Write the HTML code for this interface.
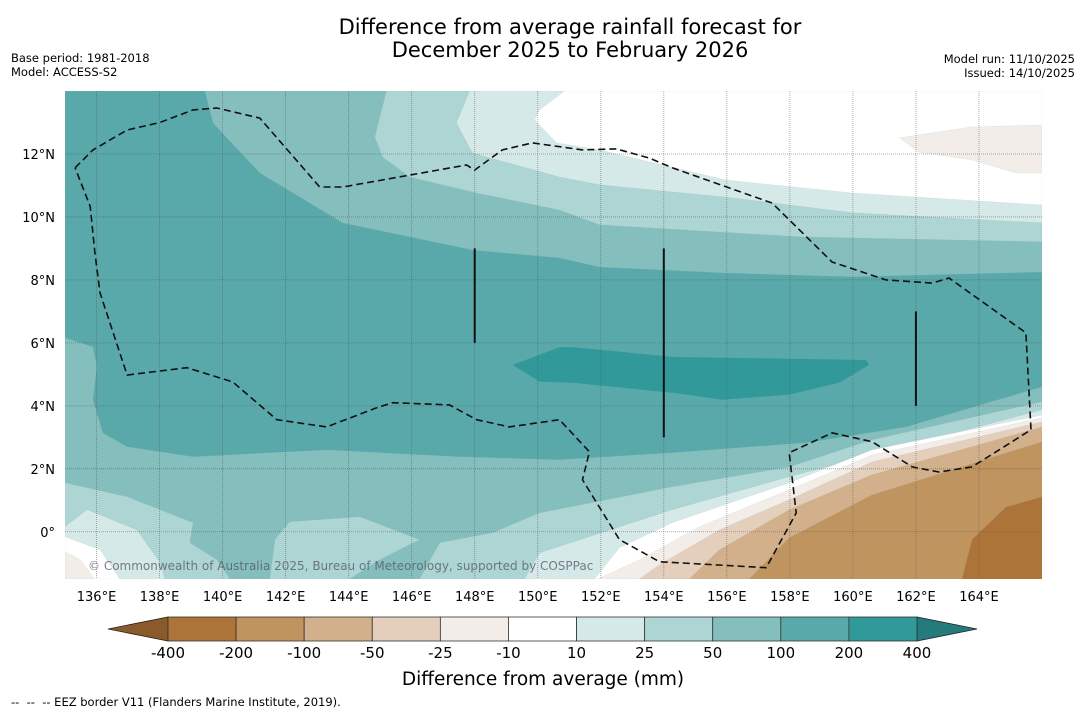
<!DOCTYPE html>
<html><head><meta charset="utf-8"><style>
body{margin:0;background:#fff;width:1085px;height:713px;overflow:hidden;font-family:"DejaVu Sans","Liberation Sans",sans-serif}
svg{display:block}
</style></head><body>
<svg id="chart" width="1085" height="713" xmlns="http://www.w3.org/2000/svg" font-family="DejaVu Sans, Liberation Sans, sans-serif">
<text x="570" y="34" font-size="21" text-anchor="middle">Difference from average rainfall forecast for</text>
<text x="570" y="57" font-size="21" text-anchor="middle">December 2025 to February 2026</text>
<text x="11" y="62" font-size="11.5">Base period: 1981-2018</text>
<text x="11" y="76" font-size="11.5">Model: ACCESS-S2</text>
<text x="1075" y="63" font-size="11.5" text-anchor="end">Model run: 11/10/2025</text>
<text x="1075" y="77" font-size="11.5" text-anchor="end">Issued: 14/10/2025</text>
<defs><clipPath id="mapclip"><rect x="65" y="91" width="977" height="488"/></clipPath></defs>
<g id="map" clip-path="url(#mapclip)"></g>
<g id="axes"></g>
<g id="cbar"></g>
<text x="543" y="685" font-size="18.5" text-anchor="middle">Difference from average (mm)</text>
<text x="11" y="706" font-size="11.5" xml:space="preserve">--  --  -- EEZ border V11 (Flanders Marine Institute, 2019).</text>
</svg>
<script>
// axis domain
const lonMin=135, lonMax=166, latMin=-1.5, latMax=14;
const lonTicks=[136,138,140,142,144,146,148,150,152,154,156,158,160,162,164];
const latTicks=[0,2,4,6,8,10,12];
const cbLevels=["-400","-200","-100","-50","-25","-10","10","25","50","100","200","400"];
const cbColors=["#ad743a","#c0945f","#d1b08b","#e3cfbb","#f2ede8","#ffffff","#d5e9e8","#acd5d4","#84bfbe","#5aa9aa","#31999a"];
const cbLow="#8b5a2b", cbHigh="#257b7c";
// contour regions [lon,lat] with band colour
const regionBase=[[135,14],[166,14],[166,-1.5],[135,-1.5]];
const regionN50=[[145.2,14],[144.83,12.54],[145.08,11.9],[145.94,11.27],[148.06,10.76],[150.69,10.22],[151.96,9.75],[158.3,9.37],[166,9.21],[166,14]];
const regionN25=[[147.84,14],[147.42,12.98],[147.93,12.03],[150.69,11.27],[151.96,11.02],[155.98,10.63],[159.98,10.13],[166,9.81],[166,14]];
const regionN10=[[150.85,14],[150.06,13.4],[149.9,13.08],[150.6,12.35],[151.96,12.13],[155.98,11.17],[159.98,10.76],[166,10.38],[166,14]];
const regionNE=[[161.47,12.51],[162.1,12.06],[163.78,11.81],[165.17,11.4],[166,11.4],[166,12.92],[163.78,12.86]];
const regionMain=[[135,14],[139.44,14],[139.7,12.98],[141.18,11.4],[142.77,10.44],[143.81,9.81],[145.94,9.37],[147.93,8.95],[150.69,8.7],[151.96,8.41],[155.98,8.22],[159.98,8.1],[166,8.25],[166,4.6],[161.69,3.33],[158.52,2.83],[154.27,2.51],[150.69,2.29],[147.52,2.38],[143.3,2.6],[139.06,2.38],[136.97,2.7],[136.2,3.14],[135.89,4.19],[136.01,5.24],[135.89,5.87],[135,6.16]];
const regionBlob=[[149.2,5.3],[150.69,5.87],[151.1,5.87],[154.27,5.56],[160.42,5.46],[160.52,5.3],[159.56,4.73],[157.98,4.35],[155.86,4.19],[154.27,4.41],[151.1,4.73],[150.06,4.76]];
const regionS50=[[166,4.13],[160.61,2.92],[157.98,2.06],[154.27,1.43],[150.06,0.6],[148.57,-0.03],[146.89,-0.35],[146.25,-1.5],[166,-1.5]];
const regionS50W=[[135,1.56],[136.97,1.11],[139.06,0.29],[138.96,-0.35],[139.82,-0.89],[140.23,-1.5],[135,-1.5]];
const regionS50P=[[141.5,-1.5],[141.66,-0.25],[142.13,0.32],[144.35,0.48],[146.25,-0.25],[144.98,-0.89],[144.03,-1.5]];
const regionS25=[[166,3.87],[157.98,1.75],[154.27,0.7],[150.06,-0.67],[149.58,-1.5],[166,-1.5]];
const regionS25W=[[135,0.16],[135.7,0.7],[137.28,0.06],[138.01,-0.98],[138.17,-1.5],[135,-1.5]];
const regionS10=[[166,3.71],[160.61,2.6],[157.98,1.56],[154.27,0.29],[152.59,-0.51],[151.8,-1.5],[166,-1.5]];
const regionS10W=[[135,-0.16],[136.11,-0.57],[136.74,-1.5],[135,-1.5]];
const regionSm10=[[166,3.62],[160.61,2.44],[157.98,1.33],[155.13,0.16],[153.23,-0.89],[151.9,-1.5],[166,-1.5]];
const regionSm10W=[[135,-0.63],[135.48,-0.89],[135.95,-1.5],[135,-1.5]];
const regionSm25=[[166,3.49],[160.61,2.22],[157.98,1.02],[155.76,0.06],[153.86,-1.05],[153.22,-1.5],[166,-1.5]];
const regionSm50=[[166,3.33],[160.61,1.81],[157.98,0.7],[155.76,-0.57],[154.81,-1.5],[166,-1.5]];
const regionSm100=[[166,2.86],[160.61,1.17],[157.98,-0.19],[156.71,-1.5],[166,-1.5]];
const regionSm200=[[166,1.11],[164.86,0.79],[163.78,-0.25],[163.46,-1.5],[166,-1.5]];
const eezLine=[[135.32,11.56],[135.89,12.13],[136.97,12.76],[138.01,13.0],[139.06,13.4],[139.82,13.46],[141.18,13.14],[143.08,10.95],[143.81,10.95],[147.74,11.65],[148.0,11.49],[148.88,12.13],[149.83,12.35],[151.42,12.13],[152.5,12.16],[153.54,11.87],[154.27,11.56],[157.44,10.44],[159.34,8.57],[161.05,8.0],[162.51,7.9],[163.05,8.06],[165.49,6.32],[165.65,3.24],[163.78,2.06],[162.73,1.9],[161.88,2.06],[160.61,2.86],[159.34,3.14],[157.98,2.51],[158.2,0.6],[157.25,-1.14],[153.86,-0.95],[152.59,-0.25],[151.42,1.65],[151.64,2.54],[150.69,3.56],[149.1,3.33],[148.06,3.56],[147.2,4.03],[145.4,4.1],[144.89,3.94],[143.3,3.33],[141.72,3.56],[140.32,4.76],[138.87,5.21],[136.97,4.98],[136.11,7.59],[135.95,8.86],[135.8,10.33],[135.32,11.56]];
const segLon=[148,154,162], segLat0=[6,3,4], segLat1=[9,9,7];

const X0=65,X1=1042,Y0=91,Y1=579;
const xs=l=>X0+(l-lonMin)/(lonMax-lonMin)*(X1-X0);
const ys=l=>Y0+(latMax-l)/(latMax-latMin)*(Y1-Y0);
const NS="http://www.w3.org/2000/svg";
const map=document.getElementById('map'), axes=document.getElementById('axes'), cbar=document.getElementById('cbar');
function mk(tag,attrs,parent){const e=document.createElementNS(NS,tag);for(const k in attrs)e.setAttribute(k,attrs[k]);parent.appendChild(e);return e;}
const pts=a=>a.map(p=>xs(p[0]).toFixed(1)+','+ys(p[1]).toFixed(1)).join(' ');
const layers=[[regionBase,"#84bfbe","band-50-100"],[regionN50,"#acd5d4","band-25-50-north"],[regionN25,"#d5e9e8","band-10-25-north"],[regionN10,"#ffffff","band-neutral-north"],[regionNE,"#f2ede8","band-dry-northeast"],[regionMain,"#5aa9aa","band-100-200"],[regionBlob,"#31999a","band-200-400"],
[regionS50,"#acd5d4","band-25-50-south"],[regionS50W,"#acd5d4","band-25-50-southwest"],[regionS50P,"#acd5d4","band-25-50-pocket"],[regionS25,"#d5e9e8","band-10-25-south"],[regionS25W,"#d5e9e8","band-10-25-southwest"],[regionS10,"#ffffff","band-neutral-south"],[regionS10W,"#ffffff","band-neutral-southwest"],[regionSm10,"#f2ede8","band-minus10-25"],[regionSm10W,"#f2ede8","band-minus10-sw"],[regionSm25,"#e3cfbb","band-minus25-50"],[regionSm50,"#d1b08b","band-minus50-100"],[regionSm100,"#c0945f","band-minus100-200"],[regionSm200,"#ad743a","band-minus200-400"]];
layers.forEach(L=>{const e=mk('polygon',{points:pts(L[0]),fill:L[1],stroke:"#9aa",'stroke-width':0.3,'stroke-opacity':0.4},map);

});
// gridlines
lonTicks.forEach(l=>{const e=mk('line',{x1:xs(l),x2:xs(l),y1:Y0,y2:Y1,stroke:"#555",'stroke-width':0.8,'stroke-dasharray':'1,1','stroke-opacity':0.6},map);


const t=mk('text',{x:xs(l),y:601,'font-size':13,'text-anchor':'middle'},axes);t.textContent=l+'°E';

});
latTicks.forEach(l=>{const e=mk('line',{x1:X0,x2:X1,y1:ys(l),y2:ys(l),stroke:"#555",'stroke-width':0.8,'stroke-dasharray':'1,1','stroke-opacity':0.6},map);


const t=mk('text',{x:55,y:ys(l)+5,'font-size':13,'text-anchor':'end'},axes);t.textContent=l===0?'0°':l+'°N';

});
const eez=mk('polyline',{points:pts(eezLine),fill:'none',stroke:'#111','stroke-width':1.6,'stroke-dasharray':'7,4'},map);


segLon.forEach((l,i)=>{const e=mk('line',{x1:xs(l),x2:xs(l),y1:ys(segLat0[i]),y2:ys(segLat1[i]),stroke:'#111','stroke-width':2},map);

});
const cp=mk('text',{x:88,y:570,'font-size':12,fill:'#556',opacity:0.75},map);cp.textContent='© Commonwealth of Australia 2025, Bureau of Meteorology, supported by COSPPac';


// colorbar
const cx0=168,cx1=917,cy0=617,cy1=641,cw=(cx1-cx0)/cbColors.length;
const lo=mk('polygon',{points:`108,${(cy0+cy1)/2} ${cx0},${cy0} ${cx0},${cy1}`,fill:cbLow,stroke:'#222','stroke-width':0.8},cbar);


const hi=mk('polygon',{points:`977,${(cy0+cy1)/2} ${cx1},${cy0} ${cx1},${cy1}`,fill:cbHigh,stroke:'#222','stroke-width':0.8},cbar);


cbColors.forEach((c,i)=>{const e=mk('rect',{x:cx0+i*cw,y:cy0,width:cw,height:cy1-cy0,fill:c,stroke:'#333','stroke-width':0.8},cbar);

});
cbLevels.forEach((s,i)=>{const t=mk('text',{x:cx0+i*cw,y:658,'font-size':15,'text-anchor':'middle'},cbar);t.textContent=s;

});
</script>
</body></html>
